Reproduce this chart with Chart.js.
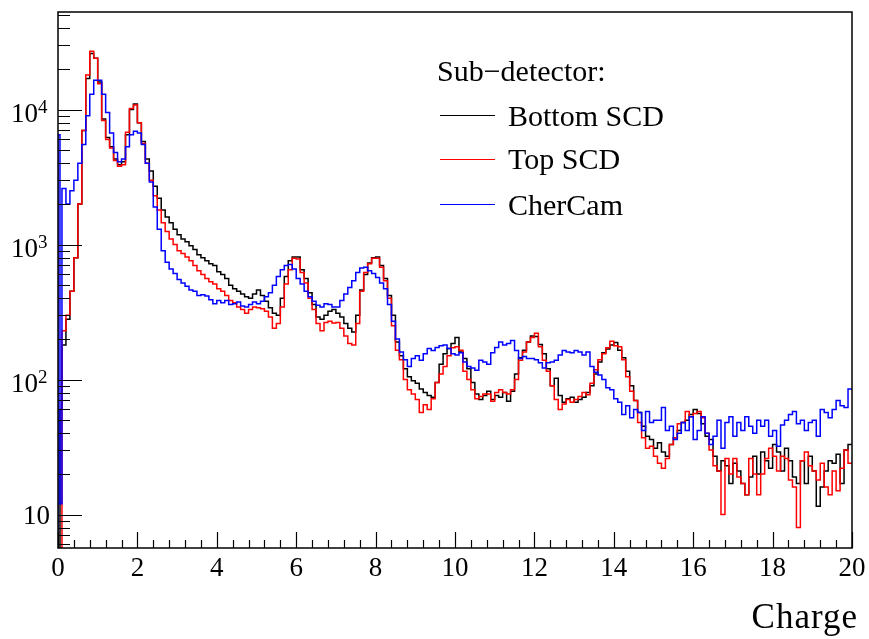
<!DOCTYPE html>
<html>
<head>
<meta charset="utf-8">
<script src="https://cdn.jsdelivr.net/npm/chart.js@4.4.1/dist/chart.umd.min.js"></script>
<style>
  html, body { margin: 0; padding: 0; background: #ffffff; }
</style>
</head>
<body>
<canvas id="myChart" width="869" height="639"></canvas>
<script>
// bin low edges: two half-width bins at the start, then 0.1 wide bins up to 20
const binEdges = [0, 0.05];
for (let i = 1; i < 200; i++) binEdges.push(i / 10);

// counts per bin
const bottomScd = [
  2, 60,
  180, 280, 450, 800, 2000, 7000, 17000, 26000, 24000,
  16000, 8500, 6200, 5300, 4300, 3900, 4100, 6500, 10000, 11000,
  8000, 5800, 4300, 3500, 2700, 2200, 1800, 1600, 1450, 1300,
  1180, 1100, 1050, 980, 920, 840, 800, 760, 720, 700,
  630, 600, 560, 500, 470, 450, 430, 410, 400, 430,
  460, 420, 380, 340, 310, 300, 400, 580, 760, 810,
  810, 650, 560, 440, 360, 290, 280, 300, 320, 330,
  310, 290, 260, 240, 225, 300, 460, 600, 730, 800,
  810, 700, 560, 420, 300, 190, 150, 120, 105, 98,
  94, 85, 80, 76, 74, 95, 130, 155, 170, 185,
  205, 160, 143, 120, 95, 78, 71, 76, 82, 71,
  76, 74, 80, 69, 82, 110, 145, 165, 190, 210,
  208, 182, 155, 120, 90, 102, 76, 68, 72, 74,
  68, 71, 74, 80, 90, 110, 135, 158, 168, 180,
  188, 165, 145, 115, 90, 70, 57, 45, 38, 36,
  31, 34, 29, 27, 33, 37, 42, 48, 50, 55,
  60, 56, 47, 38, 36, 27, 21, 25, 23, 17,
  24, 21, 17, 14, 19, 27, 20, 29, 25, 22,
  33, 29, 21, 31, 25, 19, 17, 25, 17, 27,
  21, 11.5, 16, 21, 25, 24, 28, 17, 30, 33
];

const topScd = [
  2, 3,
  230, 300, 450, 800, 2000, 7000, 18000, 27000, 24000,
  15500, 8300, 6000, 5200, 4200, 3800, 3900, 6800, 10200, 10800,
  8000, 5600, 4000, 3000, 2300, 1800, 1450, 1250, 1100, 1000,
  900, 860, 810, 760, 700, 640, 600, 560, 530, 510,
  470, 450, 420, 385, 370, 345, 330, 310, 330, 345,
  340, 335, 320, 290, 240, 260, 345, 510, 650, 790,
  780, 620, 520, 400, 330, 260, 230, 265, 270, 262,
  265, 240, 210, 185, 180, 260, 450, 620, 720, 790,
  790, 680, 540, 400, 250, 165, 140, 100, 84, 78,
  71, 57, 65, 60, 72, 95, 110, 125, 150, 172,
  175, 165, 115, 100, 84, 72, 75, 78, 78, 69,
  80, 84, 80, 78, 84, 100, 139, 160, 190, 205,
  220, 175, 139, 115, 90, 71, 60, 66, 71, 68,
  71, 75, 80, 77, 94, 118, 140, 155, 172, 192,
  178, 175, 140, 105, 82, 70, 48, 37, 31, 32,
  27, 24, 22, 26, 33, 37, 47, 48, 58, 53,
  56, 58, 52, 40, 30, 23, 21, 10, 26, 20,
  26, 19, 17, 14, 26, 20, 14, 20, 26, 31,
  27, 21, 27, 26, 18, 16, 8, 25, 29, 23,
  21, 18, 24, 16, 14, 21, 15, 22, 30, 24
];

const cherCam = [
  6500, 12,
  2600, 2000, 2500, 3000, 4000, 5500, 9000, 13000, 16500,
  16500, 13000, 9500, 6700, 4800, 4100, 4300, 5300, 6500, 6900,
  6700, 5500, 4000, 2900, 1900, 1300, 900, 740, 660, 610,
  550, 520, 490, 460, 450, 420, 425, 415, 390, 365,
  385, 370, 385, 360, 365, 375, 350, 345, 360, 375,
  365, 380, 410, 440, 500, 580, 650, 700, 710, 660,
  560, 510, 450, 410, 380, 355, 345, 365, 360, 345,
  345, 385, 430, 480, 540, 620, 670, 680, 640, 610,
  570, 520, 470, 360, 270, 200, 160, 140, 125, 143,
  150, 139, 155, 170, 164, 173, 178, 180, 170, 155,
  152, 158, 135, 125, 122, 117, 139, 135, 130, 158,
  173, 190, 180, 185, 195, 164, 143, 148, 143, 143,
  140, 133, 122, 133, 135, 139, 152, 164, 160, 158,
  164, 160, 152, 160, 125, 113, 108, 100, 87, 84,
  72, 68, 55, 64, 52, 60, 57, 42, 58, 48,
  50, 50, 62, 42, 45, 36, 40, 48, 42, 53,
  36, 42, 53, 40, 33, 38, 50, 31, 48, 53,
  38, 48, 42, 53, 45, 40, 50, 45, 50, 38,
  42, 32, 46, 50, 55, 58, 47, 50, 42, 48,
  50, 38, 60, 57, 52, 60, 70, 64, 62, 85
];

const seriesNames = ["Bottom SCD", "Top SCD", "CherCam"];
const seriesColors = ["#000000", "#ff0000", "#0000ff"];
const xMin = 0, xMax = 20;
const yMin = 5.65, yMax = 52800;
const xTickLabels = ["0", "2", "4", "6", "8", "10", "12", "14", "16", "18", "20"];
const yTickValues = [10, 100, 1000, 10000];
const yTickExponents = ["", "2", "3", "4"];
const legendTitle = "Sub\u2212detector:";
const xTitle = "Charge";

// turn bin contents into a step outline (ROOT style histogram)
function histPoints(values) {
  const pts = [{ x: binEdges[0], y: 1 }];
  for (let i = 0; i < values.length; i++) pts.push({ x: binEdges[i], y: values[i] });
  pts.push({ x: xMax, y: values[values.length - 1] });
  return pts;
}

const FONT = "'Liberation Serif', 'Times New Roman', serif";

const rootAxes = {
  id: "rootAxes",
  afterDraw(chart) {
    const ctx = chart.ctx;
    const a = chart.chartArea;
    const xs = chart.scales.x, ys = chart.scales.y;
    ctx.save();
    ctx.strokeStyle = "#000";
    ctx.fillStyle = "#000";
    ctx.lineWidth = 1.5;
    ctx.strokeRect(a.left, a.top, a.right - a.left, a.bottom - a.top);

    // x ticks, pointing inwards
    ctx.lineWidth = 1.2;
    ctx.beginPath();
    for (let i = 0; i <= 50; i++) {
      const v = i * 0.4;
      const px = Math.round(xs.getPixelForValue(v)) + 0.5;
      const len = (i % 5 === 0) ? 16 : 8;
      ctx.moveTo(px, a.bottom);
      ctx.lineTo(px, a.bottom - len);
    }
    // y ticks (log)
    for (let d = 0; d <= 5; d++) {
      for (let m = 1; m <= 9; m++) {
        const v = m * Math.pow(10, d);
        if (v < yMin || v > yMax) continue;
        const py = Math.round(ys.getPixelForValue(v)) + 0.5;
        const len = (m === 1) ? 24 : 12;
        ctx.moveTo(a.left, py);
        ctx.lineTo(a.left + len, py);
      }
    }
    ctx.stroke();

    // x tick labels
    ctx.font = "27px " + FONT;
    ctx.textAlign = "center";
    ctx.textBaseline = "alphabetic";
    xTickLabels.forEach((t) => {
      ctx.fillText(t, xs.getPixelForValue(Number(t)), 576);
    });

    // y tick labels with exponents
    yTickValues.forEach((v, i) => {
      const py = ys.getPixelForValue(v);
      ctx.font = "27px " + FONT;
      if (yTickExponents[i] === "") {
        ctx.textAlign = "right";
        ctx.fillText("10", 50, py + 9);
      } else {
        ctx.textAlign = "right";
        ctx.fillText("10", 38, py + 12);
        ctx.font = "19px " + FONT;
        ctx.textAlign = "left";
        ctx.fillText(yTickExponents[i], 38, py + 3);
      }
    });

    // axis title
    ctx.font = "35px " + FONT;
    ctx.letterSpacing = "1px";
    ctx.textAlign = "right";
    ctx.fillText(xTitle, 858, 628);
    ctx.letterSpacing = "0px";

    // legend
    ctx.font = "30px " + FONT;
    ctx.textAlign = "left";
    ctx.fillText(legendTitle, 437, 81);
    const rows = [115, 159, 204];
    const base = [126, 169, 215];
    seriesNames.forEach((n, i) => {
      ctx.strokeStyle = seriesColors[i];
      ctx.lineWidth = 1.2;
      ctx.beginPath();
      ctx.moveTo(440, rows[i] + 0.5);
      ctx.lineTo(495, rows[i] + 0.5);
      ctx.stroke();
      ctx.fillText(n, 508, base[i]);
    });
    ctx.restore();
  }
};

const context = document.getElementById("myChart").getContext("2d");

const myChart = new Chart(context, {
  type: "line",
  data: {
    datasets: [
      { label: seriesNames[0], data: histPoints(bottomScd), borderColor: seriesColors[0], order: 3 },
      { label: seriesNames[1], data: histPoints(topScd), borderColor: seriesColors[1], order: 2 },
      { label: seriesNames[2], data: histPoints(cherCam), borderColor: seriesColors[2], order: 1 }
    ]
  },
  options: {
    responsive: false,
    animation: false,
    layout: { padding: { left: 58, right: 17, top: 12, bottom: 91 } },
    elements: {
      line: { stepped: true, borderWidth: 1.5, tension: 0, fill: false },
      point: { radius: 0, hoverRadius: 0 }
    },
    scales: {
      x: { type: "linear", min: xMin, max: xMax, display: false },
      y: { type: "logarithmic", min: yMin, max: yMax, display: false }
    },
    plugins: {
      legend: { display: false },
      tooltip: { enabled: false }
    }
  },
  plugins: [rootAxes]
});
</script>
</body>
</html>
